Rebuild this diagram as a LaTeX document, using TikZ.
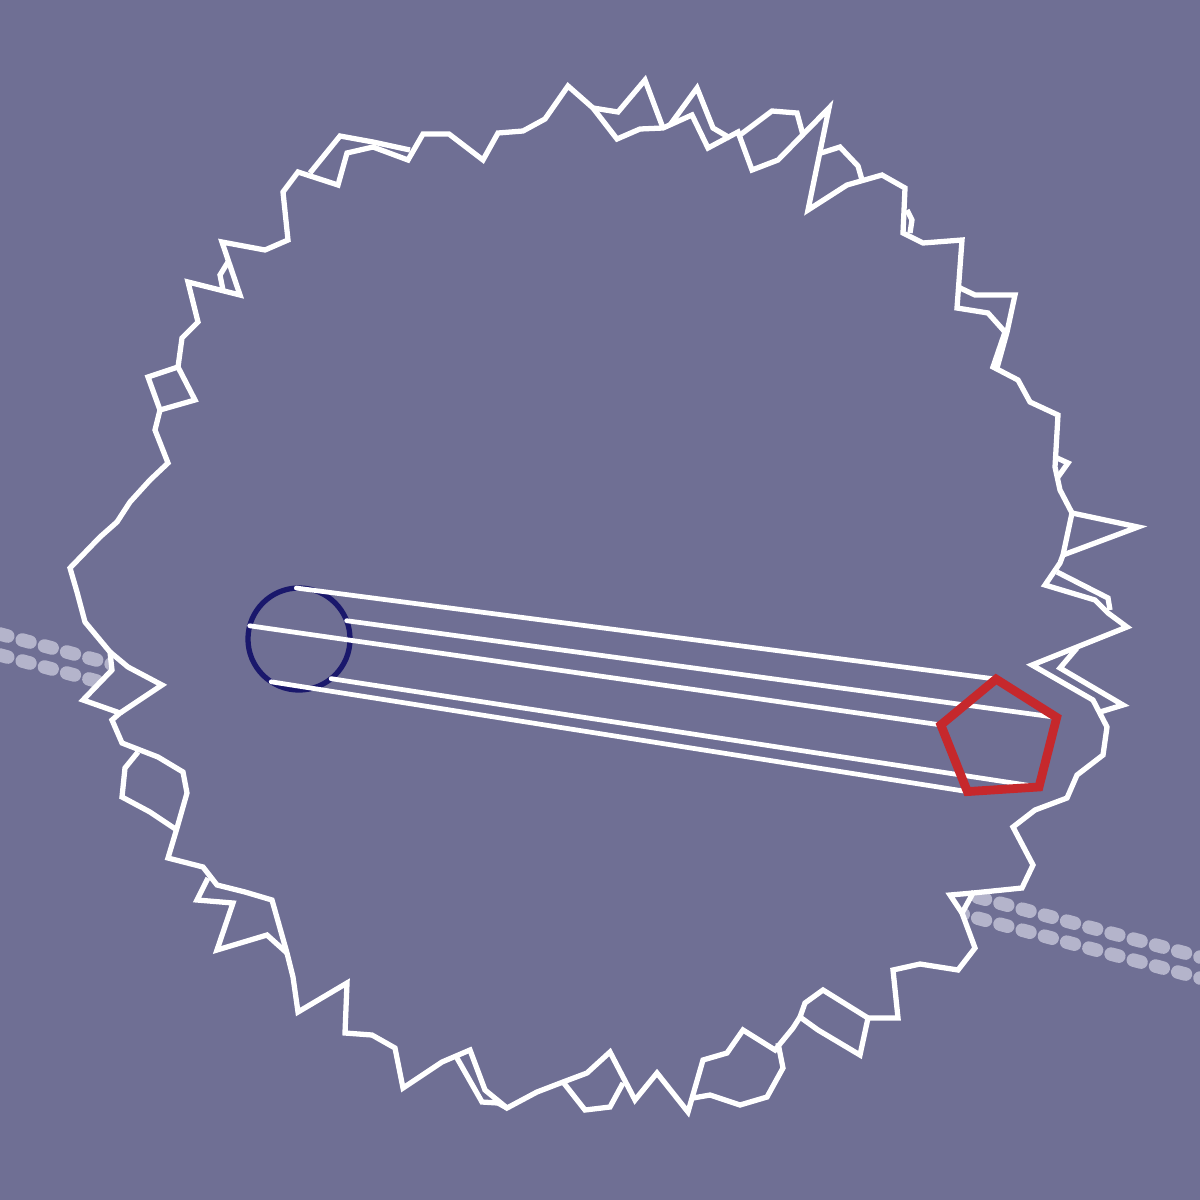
\documentclass[tikz,border=0pt]{standalone}
\usetikzlibrary{shapes.geometric}
\definecolor{slate}{RGB}{111,111,148}
\definecolor{haze}{RGB}{180,180,203}
\definecolor{navy}{RGB}{26,24,108}
\definecolor{brick}{RGB}{198,40,44}
\begin{document}
\begin{tikzpicture}[x=0.01cm, y=-0.01cm,
  rim/.style={draw=white, line width=1.5pt},
  track/.style={haze, line width=0.135cm, line cap=round, dash pattern=on 0.08cm off 0.15cm},
  spoke/.style={white, line width=1.35pt, line cap=round}]
\useasboundingbox (0,0) rectangle (1200,1200);
\fill[slate] (0,0) rectangle (1200,1200);

% the two dashed tracks, hidden inside the ring
\coordinate (trk0a) at (0,634);
\coordinate (trk0b) at (1200,957);
\coordinate (trk1a) at (0,655);
\coordinate (trk1b) at (1200,978);
\draw[track] (trk0a) -- (trk0b);
\draw[track] (trk1a) -- (trk1b);

% jagged ring
\filldraw[rim, fill=slate] (449,134) -- (483,160) -- (498,133) -- (523,131) -- (545,119) -- (568,86)
 -- (593,108) -- (617,139) -- (640,129) -- (663,128) -- (692,115) -- (708,148) -- (738,132)
 -- (752,170) -- (778,160) -- (829,108) -- (808,210) -- (847,185) -- (882,175) -- (905,188)
 -- (903,233) -- (923,243) -- (962,240) -- (957,308) -- (988,313) -- (1005,332) -- (993,367)
 -- (1018,380) -- (1030,402) -- (1058,415) -- (1055,467) -- (1060,490) -- (1072,513)
 -- (1063,555) -- (1060,563) -- (1045,585) -- (1095,600) -- (1108,613) -- (1127,627)
 -- (1077,647) -- (1032,665) -- (1093,700) -- (1107,727) -- (1103,755) -- (1077,775)
 -- (1067,798) -- (1035,810) -- (1013,827) -- (1033,865) -- (1022,888) -- (973,893)
 -- (962,913) -- (975,948) -- (958,970) -- (920,964) -- (893,970) -- (898,1018) -- (868,1018)
 -- (860,1055) -- (818,1030) -- (800,1017) -- (793,1028) -- (775,1050) -- (743,1030)
 -- (727,1053) -- (703,1060) -- (688,1112) -- (657,1073) -- (635,1100) -- (610,1052)
 -- (587,1073) -- (563,1082) -- (537,1092) -- (507,1108) -- (485,1090) -- (470,1050)
 -- (442,1062) -- (403,1088) -- (395,1048) -- (372,1035) -- (345,1033) -- (347,983)
 -- (298,1012) -- (293,977) -- (287,953) -- (272,900) -- (245,892) -- (217,885) -- (203,867)
 -- (168,858) -- (177,828) -- (187,793) -- (183,772) -- (158,757) -- (122,743) -- (112,720)
 -- (120,713) -- (83,700) -- (112,670) -- (110,652) -- (85,622) -- (77,592) -- (70,568)
 -- (100,537) -- (117,522) -- (130,502) -- (150,480) -- (168,463) -- (155,430) -- (160,410)
 -- (148,377) -- (178,367) -- (182,338) -- (198,322) -- (188,282) -- (240,295) -- (222,242)
 -- (265,250) -- (288,240) -- (283,192) -- (298,172) -- (338,185) -- (347,153) -- (373,147)
 -- (408,160) -- (423,134) -- cycle;
\draw[rim] (310,173) -- (340,136) -- (373,142) -- (410,150);
\draw[rim] (228,262) -- (220,275) -- (223,290);
\draw[rim] (593,108) -- (618,112) -- (645,80) -- (663,128);
\draw[rim] (670,125) -- (697,88) -- (713,128) -- (730,138);
\draw[rim] (740,135) -- (772,111) -- (797,113) -- (803,135);
\draw[rim] (821,153) -- (840,147) -- (858,166) -- (862,180);
\draw[rim] (907,210) -- (912,220) -- (910,233);
\draw[rim] (958,287) -- (975,295) -- (1015,295) -- (1007,332) -- (997,368);
\draw[rim] (1057,458) -- (1068,463) -- (1058,477);
\draw[rim] (1072,513) -- (1138,527) -- (1063,555);
\draw[rim] (1057,572) -- (1108,598) -- (1110,610);
\draw[rim] (1077,648) -- (1060,668) -- (1123,705) -- (1100,712);
\draw[rim] (973,893) -- (950,895) -- (962,913);
\draw[rim] (800,1017) -- (805,1003) -- (823,990) -- (868,1018);
\draw[rim] (778,1043) -- (783,1068) -- (767,1097) -- (740,1105) -- (710,1095) -- (693,1098);
\draw[rim] (563,1082) -- (585,1110) -- (610,1107) -- (623,1083);
\draw[rim] (457,1058) -- (482,1102) -- (498,1103) -- (507,1108);
\draw[rim] (208,878) -- (197,900) -- (233,903) -- (217,950) -- (267,935) -- (287,953);
\draw[rim] (138,752) -- (125,768) -- (122,797) -- (150,812) -- (177,830);
\draw[rim] (120,713) -- (162,685) -- (128,667) -- (110,652);
\draw[rim] (178,367) -- (195,400) -- (160,410);

% disc, pentagon and the spokes between them
\node[circle, draw=navy, line width=1.5pt, minimum size=1.02cm, inner sep=0, outer sep=0] (hub0) at (299,639){};
\node[regular polygon, regular polygon sides=5, minimum size=1.22cm, inner sep=0, outer sep=0, rotate=3.7] (pent0) at (1000,740){};

\draw[spoke] (hub0.93.7) -- (pent0.corner 1);
\draw[spoke] (hub0.165.7) -- (pent0.corner 2);
\draw[spoke] (hub0.237.7) -- (pent0.corner 3);
\draw[spoke] (hub0.309.7) -- (pent0.corner 4);
\draw[spoke] (hub0.21.7) -- (pent0.corner 5);

\draw[brick, line width=2.5pt] (pent0.corner 1) -- (pent0.corner 2) -- (pent0.corner 3) -- (pent0.corner 4) -- (pent0.corner 5) -- cycle;

\end{tikzpicture}
\end{document}
